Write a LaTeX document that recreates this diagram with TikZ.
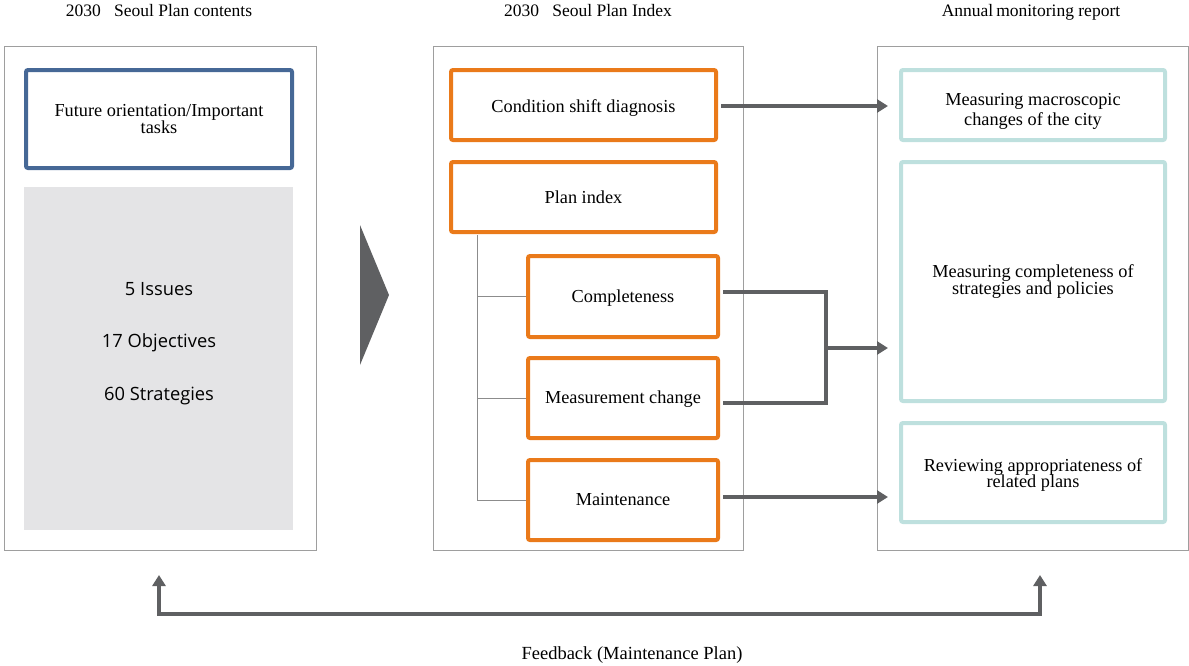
\documentclass[tikz,border=0pt]{standalone}
\usepackage{fontspec}
\setmainfont{Liberation Serif}
\newfontfamily\figsans{Open Sans}
\usetikzlibrary{arrows.meta}

\definecolor{planBlue}{RGB}{70,104,150}
\definecolor{indexOrange}{RGB}{234,122,26}
\definecolor{reportTeal}{RGB}{190,224,222}
\definecolor{linkGray}{RGB}{95,96,98}
\definecolor{fillGray}{RGB}{228,228,230}

\newcommand\boxText[2]{\raisebox{#1}[\height][\depth]{\begin{tabular}{@{}c@{}}#2\end{tabular}}}

\tikzset{
  panel/.style={draw=black!38,line width=0.9pt,minimum width=#1,minimum height=504pt,inner sep=0pt},
  box/.style={rounded corners=2pt,line width=4pt,align=center,inner sep=0pt,
              font=\fontsize{18.3}{17}\selectfont},
  blueBox/.style={box,draw=planBlue},
  orangeBox/.style={box,draw=indexOrange},
  tealBox/.style={box,draw=reportTeal},
  title/.style={font=\fontsize{17.5}{18}\selectfont,anchor=base},
  itemText/.style={font=\figsans\fontsize{18.3}{20}\selectfont},
  link/.style={draw=linkGray,line width=4pt},
  linkArrow/.style={link,-{Triangle[length=11pt,width=13pt]}},
  tree/.style={draw=black!45,line width=0.9pt},
}

\begin{document}
\begin{tikzpicture}[x=1pt,y=-1pt]
\useasboundingbox (0,0) rectangle (1189,665);

\node[title] (titlePlan)   at ( 159,16) {2030\enspace\ Seoul Plan contents};
\node[title] (titleIndex)  at ( 588,16) {2030\enspace\ Seoul Plan Index};
\node[title] (titleReport) at (1031,16) {Annual\,monitoring report};

\node[panel=312pt] (planPanel)   at ( 160,298) {};
\node[panel=310pt] (indexPanel)  at ( 588,298) {};
\node[panel=311pt] (reportPanel) at (1032.5,298) {};

\node[blueBox,minimum width=266pt,minimum height=98pt] (futureTasks) at (159,119)
  {Future orientation/Important\\tasks};
\node[fill=fillGray,minimum width=269pt,minimum height=343pt,inner sep=0pt] (planItems) at (158.5,358.5) {};
\node[itemText] (issues)     at (159,289) {5 Issues};
\node[itemText] (objectives) at (159,343) {17 Objectives};
\node[itemText] (strategies) at (159,396) {60 Strategies};

\fill[linkGray] (360,225) -- (389,295) -- (360,365) -- cycle;

\node[orangeBox,minimum width=265pt,minimum height=70pt] (condShift)    at (583.5,105) {\boxText{-4pt}{Condition shift diagnosis}};
\node[orangeBox,minimum width=265pt,minimum height=70pt] (planIndex)    at (583.5,197) {Plan index};
\node[orangeBox,minimum width=190pt,minimum height=81pt] (completeness) at (623,296.5) {\boxText{-2pt}{Completeness}};
\node[orangeBox,minimum width=190pt,minimum height=80pt] (measChange)   at (623,398)   {\boxText{-2pt}{Measurement change}};
\node[orangeBox,minimum width=190pt,minimum height=80pt] (maintenance)  at (623,500)   {Maintenance};

\node[tealBox,minimum width=264pt,minimum height=70pt]  (macroChange) at (1033,105)
  {\boxText{-7pt}{Measuring macroscopic\\[2pt]changes of the city}};
\node[tealBox,minimum width=264pt,minimum height=239pt] (policyCheck) at (1033,281.5)
  {Measuring completeness of\\strategies and policies};
\node[tealBox,minimum width=264pt,minimum height=99pt]  (planReview)  at (1033,472.5)
  {\boxText{-3pt}{Reviewing appropriateness of\\[-1pt]related plans}};

\coordinate (trunk) at (477,235);
\draw[tree] (trunk) |- (maintenance.west);
\draw[tree] (trunk |- completeness.west) -- (completeness.west);
\draw[tree] (trunk |- measChange.west) -- (measChange.west);

\coordinate (join) at (826,348);
\draw[linkArrow] ([xshift=3pt,yshift=-1pt]condShift.east) -- ([xshift=-11pt,yshift=-1pt]condShift.east -| macroChange.west);
\draw[link] ([xshift=3pt,yshift=5pt]completeness.east) -| (join) |- ([xshift=3pt,yshift=-5pt]measChange.east);
\draw[linkArrow] (join) -- ([xshift=-11pt]join -| policyCheck.west);
\draw[linkArrow] ([xshift=3pt,yshift=3pt]maintenance.east) -- ([xshift=-11pt,yshift=3pt]maintenance.east -| planReview.west);

\coordinate (feedPlan)   at ( 159,575);
\coordinate (feedReport) at (1040,575);
\draw[link,{Triangle[length=11pt,width=13pt]}-{Triangle[length=11pt,width=13pt]}]
  (feedPlan) -- ++(0,39) -| (feedReport);
\node[title,font=\fontsize{18.5}{18}\selectfont] (feedback) at (632,659) {Feedback (Maintenance Plan)};
\end{tikzpicture}
\end{document}
